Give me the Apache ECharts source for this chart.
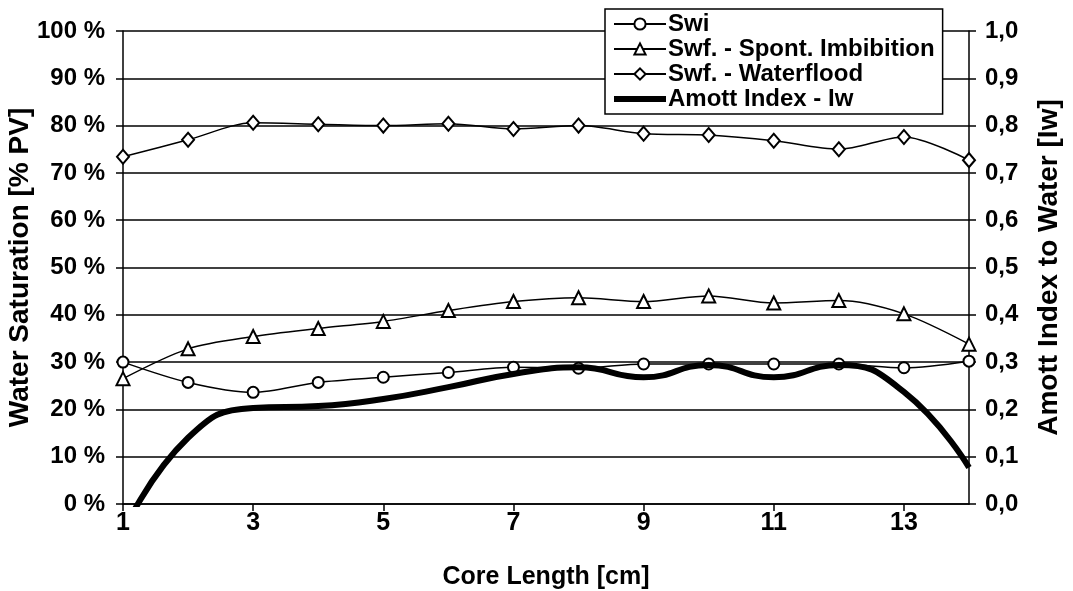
<!DOCTYPE html>
<html>
<head>
<meta charset="utf-8">
<script src="https://cdn.jsdelivr.net/npm/echarts@6/dist/echarts.min.js"></script>
<style>html,body{margin:0;padding:0;background:#fff}#c{width:1073px;height:591px}</style>
</head>
<body>
<div id="c"></div>
<script>
const coreLength = [1, 2, 3, 4, 5, 6, 7, 8, 9, 10, 11, 12, 13, 14];
const xTickValues = [1, 3, 5, 7, 9, 11, 13];
const swi = [30.0, 25.7, 23.6, 25.7, 26.8, 27.8, 28.9, 28.7, 29.6, 29.6, 29.6, 29.6, 28.8, 30.2];
const swfSpont = [26.5, 32.8, 35.4, 37.1, 38.6, 40.9, 42.8, 43.6, 42.8, 44.0, 42.5, 43.0, 40.2, 33.8];
const swfWaterflood = [73.4, 77.0, 80.6, 80.3, 80.0, 80.4, 79.3, 80.0, 78.3, 78.0, 76.8, 75.0, 77.6, 72.7];
const amottIw = [-0.06, 0.14, 0.203, 0.207, 0.222, 0.247, 0.275, 0.289, 0.268, 0.294, 0.268, 0.294, 0.237, 0.077];
const seriesNames = ['Swi', 'Swf. - Spont. Imbibition', 'Swf. - Waterflood', 'Amott Index - Iw'];

const pairs = arr => coreLength.map((x, i) => [x, arr[i]]);
const FONT = '"Liberation Sans", Arial, sans-serif';
const markerStyle = { color: '#fff', borderColor: '#000', borderWidth: 2 };
const thin = { color: '#000', width: 1.5 };

const chart = echarts.init(document.getElementById('c'), null, { renderer: 'canvas' });
chart.setOption({
  animation: false,
  backgroundColor: '#fff',
  textStyle: { fontFamily: FONT, color: '#000', fontWeight: 'bold' },
  grid: { left: 123, right: 104, top: 31, bottom: 87, containLabel: false, outerBoundsMode: 'none' },
  legend: {
    data: [
      { name: seriesNames[0] },
      { name: seriesNames[1] },
      { name: seriesNames[2] },
      { name: seriesNames[3], icon: 'path://M0,0L52,0L52,6L0,6Z', itemStyle: { color: '#000' } }
    ],
    orient: 'vertical',
    left: 605, top: 9,
    backgroundColor: '#fff',
    borderColor: '#000', borderWidth: 1.5,
    padding: [3, 8, 3, 8],
    itemGap: 1,
    itemWidth: 52, itemHeight: 14,
    textStyle: { fontFamily: FONT, fontSize: 24, fontWeight: 'bold', color: '#000', padding: [0, 0, 0, -3] }
  },
  xAxis: {
    type: 'value', min: 1, max: 14,
    name: 'Core Length [cm]', nameLocation: 'middle', nameGap: 61, nameMoveOverlap: false,
    nameTextStyle: { fontFamily: FONT, fontSize: 25, fontWeight: 'bold', color: '#000' },
    axisLine: { lineStyle: { color: '#000', width: 1.5 } },
    axisTick: { customValues: xTickValues, length: 7, lineStyle: { color: '#000', width: 1.5 } },
    axisLabel: { customValues: xTickValues, margin: 7, fontFamily: FONT, fontSize: 25, fontWeight: 'bold', color: '#000' },
    splitLine: { show: false }
  },
  yAxis: [{
    type: 'value', min: 0, max: 100, interval: 10, position: 'left',
    name: 'Water Saturation [% PV]', nameLocation: 'middle', nameGap: 89, nameMoveOverlap: false,
    nameTextStyle: { fontFamily: FONT, fontSize: 28, fontWeight: 'bold', color: '#000' },
    axisLine: { show: true, lineStyle: { color: '#000', width: 1.5 } },
    axisTick: { show: true, length: 7, lineStyle: { color: '#000', width: 1.5 } },
    axisLabel: { formatter: '{value} %', margin: 18, fontFamily: FONT, fontSize: 24, fontWeight: 'bold', color: '#000' },
    splitLine: { show: true, lineStyle: { color: '#000', width: 1.5 } }
  }, {
    type: 'value', min: 0, max: 1, interval: 0.1, position: 'right',
    name: 'Amott Index to Water [Iw]', nameLocation: 'middle', nameGap: 66, nameRotate: 90, nameMoveOverlap: false,
    nameTextStyle: { fontFamily: FONT, fontSize: 28, fontWeight: 'bold', color: '#000' },
    axisLine: { show: true, lineStyle: { color: '#000', width: 1.5 } },
    axisTick: { show: true, length: 7, lineStyle: { color: '#000', width: 1.5 } },
    axisLabel: { formatter: v => v.toFixed(1).replace('.', ','), margin: 16, fontFamily: FONT, fontSize: 24, fontWeight: 'bold', color: '#000' },
    splitLine: { show: false }
  }],
  series: [{
    name: seriesNames[0], type: 'line', data: pairs(swi), smooth: 0.3,
    symbol: 'circle', symbolSize: 11, itemStyle: markerStyle, lineStyle: thin, z: 3
  }, {
    name: seriesNames[1], type: 'line', data: pairs(swfSpont), smooth: 0.3,
    symbol: 'triangle', symbolSize: 13, itemStyle: markerStyle, lineStyle: thin, z: 3
  }, {
    name: seriesNames[2], type: 'line', data: pairs(swfWaterflood), smooth: 0.3,
    symbol: 'diamond', symbolSize: [12, 14], itemStyle: markerStyle, lineStyle: thin, z: 3
  }, {
    name: seriesNames[3], type: 'line', yAxisIndex: 1, data: pairs(amottIw), smooth: 0.5,
    symbol: 'none', showSymbol: false, itemStyle: { color: '#000' },
    lineStyle: { color: '#000', width: 6 }, z: 4, clip: true
  }]
});
</script>
</body>
</html>
